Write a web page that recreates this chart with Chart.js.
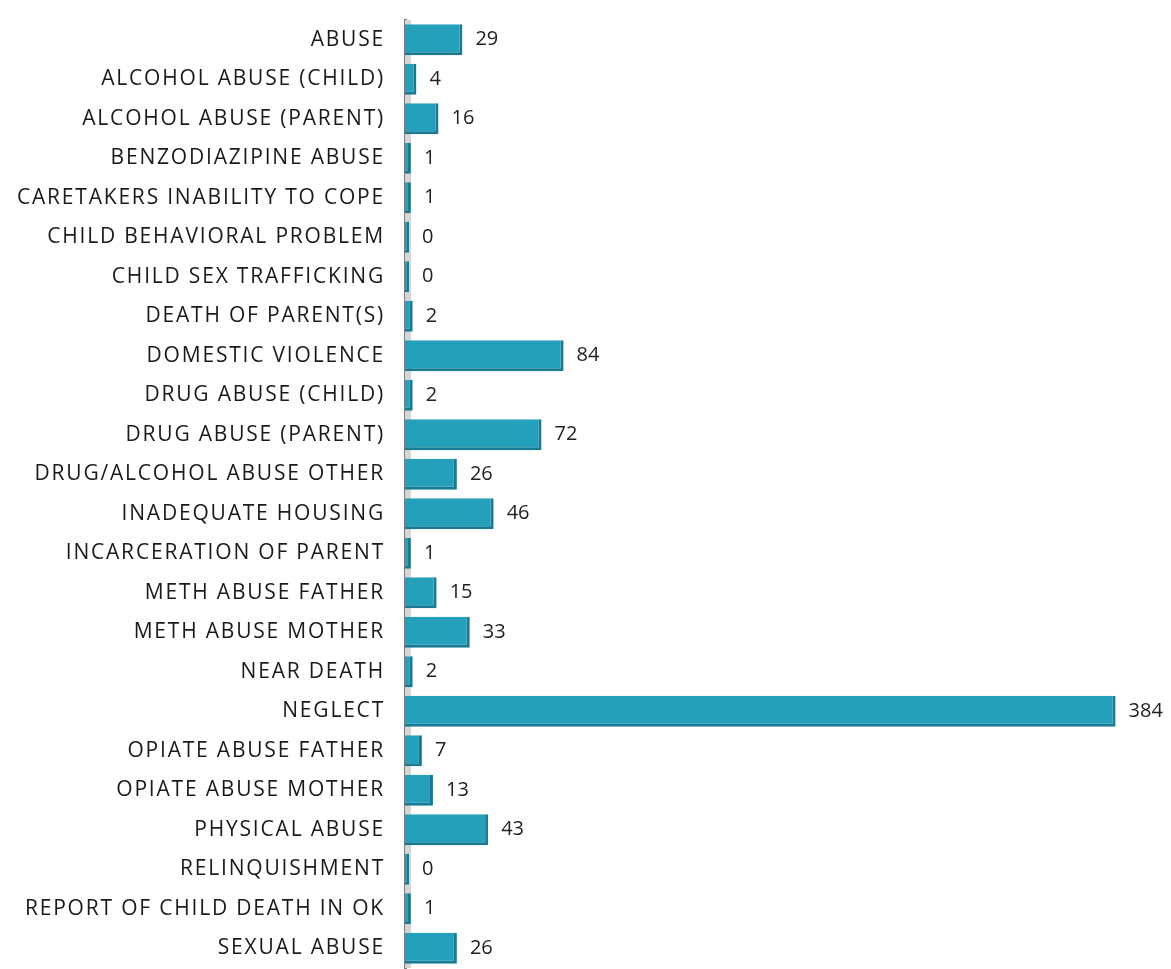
<!DOCTYPE html>
<html>
<head>
<meta charset="utf-8">
<script src="https://cdn.jsdelivr.net/npm/chart.js@4/dist/chart.umd.min.js"></script>
<style>
  html, body { margin: 0; padding: 0; background: #fff; }
</style>
</head>
<body>
<canvas id="chart" width="1171" height="969"></canvas>
<script>
const categories = [
    'ABUSE', 'ALCOHOL ABUSE (CHILD)', 'ALCOHOL ABUSE (PARENT)', 'BENZODIAZIPINE ABUSE',
    'CARETAKERS INABILITY TO COPE', 'CHILD BEHAVIORAL PROBLEM', 'CHILD SEX TRAFFICKING',
    'DEATH OF PARENT(S)', 'DOMESTIC VIOLENCE', 'DRUG ABUSE (CHILD)', 'DRUG ABUSE (PARENT)',
    'DRUG/ALCOHOL ABUSE OTHER', 'INADEQUATE HOUSING', 'INCARCERATION OF PARENT',
    'METH ABUSE FATHER', 'METH ABUSE MOTHER', 'NEAR DEATH', 'NEGLECT',
    'OPIATE ABUSE FATHER', 'OPIATE ABUSE MOTHER', 'PHYSICAL ABUSE', 'RELINQUISHMENT',
    'REPORT OF CHILD DEATH IN OK', 'SEXUAL ABUSE'
];
const counts = [29, 4, 16, 1, 1, 0, 0, 2, 84, 2, 72, 26, 46, 1, 15, 33, 2, 384, 7, 13, 43, 0, 1, 26];

const axisMin = -2.2;
const axisMax = 400;

// wider letter spacing for the category names + light grey back wall by the axis
const backWall = {
    id: 'backWall',
    beforeDraw(chart) {
        chart.ctx.letterSpacing = '1.8px';
    },
    beforeDatasetsDraw(chart) {
        const { ctx, chartArea } = chart;
        ctx.save();
        ctx.fillStyle = '#d6d6d6';
        ctx.fillRect(chartArea.left, chartArea.top, 6, chartArea.bottom - chartArea.top);
        ctx.restore();
    }
};

// value labels to the right of each bar
const valueLabels = {
    id: 'valueLabels',
    afterDatasetsDraw(chart) {
        const { ctx } = chart;
        const meta = chart.getDatasetMeta(0);
        ctx.save();
        ctx.letterSpacing = '0px';
        ctx.font = '20px "Open Sans"';
        ctx.fillStyle = '#222';
        ctx.textAlign = 'left';
        ctx.textBaseline = 'middle';
        meta.data.forEach((bar, i) => {
            ctx.fillText(String(counts[i]), bar.x + 13, bar.y);
        });
        ctx.restore();
    }
};

new Chart(document.getElementById('chart').getContext('2d'), {
    type: 'bar',
    data: {
        labels: categories,
        datasets: [{
            data: counts,
            base: axisMin,
            backgroundColor: '#24a0ba',
            borderColor: '#187b93',
            borderWidth: { top: 0, left: 0, right: 3, bottom: 3 },
            borderSkipped: false,
            barPercentage: 0.78,
            categoryPercentage: 1
        }]
    },
    options: {
        responsive: false,
        indexAxis: 'y',
        animation: false,
        layout: { padding: { top: 20, bottom: 1, right: 26, left: 0 } },
        plugins: {
            legend: { display: false },
            tooltip: { enabled: false }
        },
        scales: {
            x: {
                min: axisMin,
                max: axisMax,
                display: false
            },
            y: {
                afterFit(scale) {
                    scale.width = 405;
                    scale.paddingTop = 0;
                    scale.paddingBottom = 0;
                },
                grid: { display: false, drawTicks: false },
                border: { display: true, color: '#7d7d7d', width: 3 },
                ticks: {
                    padding: 20,
                    color: '#1a1a1a',
                    font: { family: 'Open Sans', size: 21 }
                }
            }
        }
    },
    plugins: [backWall, valueLabels]
});
</script>
</body>
</html>
